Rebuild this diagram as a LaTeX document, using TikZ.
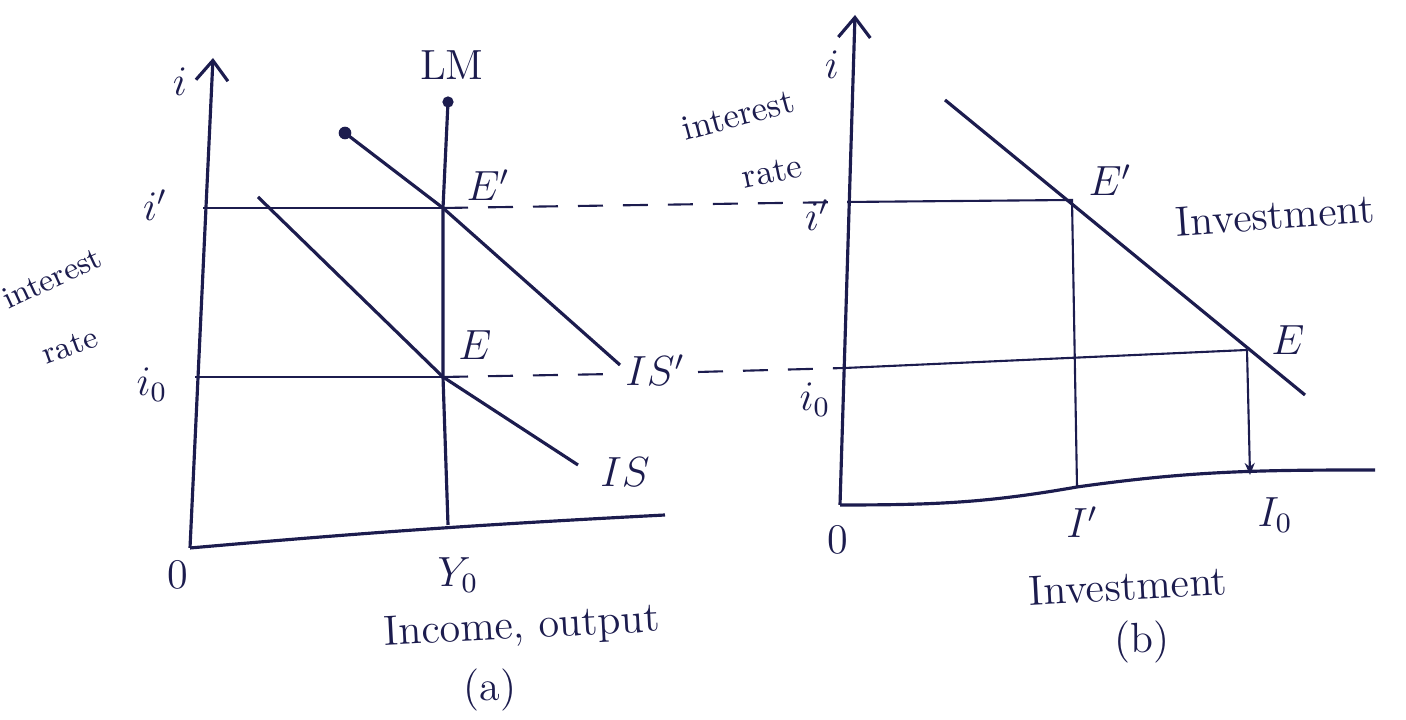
\documentclass[tikz,border=0pt]{standalone}
\usepackage{amsmath}
\usepackage{xcolor}
\usepackage{tikz}
\usetikzlibrary{arrows.meta}
\definecolor{ink}{HTML}{1C1C4E}
\tikzset{
  curve/.style={draw=ink, line width=0.9pt},
  guide/.style={draw=ink, line width=0.6pt},
  proj/.style={draw=ink, line width=0.6pt, dash pattern=on 2.5mm off 2mm},
  axisline/.style={draw=ink, line width=0.9pt},
  lbl/.style={text=ink, font=\large, inner sep=1pt},
  tip/.style={-{Straight Barb[length=2mm,width=3.2mm]}}
}

\begin{document}
\begin{tikzpicture}[x=1cm, y=1cm]
  \useasboundingbox (0,0) rectangle (14.06,7.2);
  % panel (a)
  \coordinate (oa) at (1.90,1.72);
  \coordinate (ya) at (2.13,6.62);
  \coordinate (xa) at (6.65,2.05);
  \coordinate (lmtop) at (4.48,6.18);
  \coordinate (lmbot) at (4.48,1.95);
  \coordinate (Ea1) at (4.43,5.12);
  \coordinate (Ea0) at (4.43,3.43);
  \coordinate (isa1) at (3.45,5.87);
  \coordinate (isb1) at (6.20,3.55);
  \coordinate (isa0) at (2.58,5.23);
  \coordinate (isb0) at (5.78,2.55);
  \coordinate (ia1) at (2.03,5.12);
  \coordinate (ia0) at (1.95,3.43);
  % panel (b)
  \coordinate (ob) at (8.40,2.15);
  \coordinate (yb) at (8.55,7.05);
  \coordinate (xb) at (13.75,2.50);
  \coordinate (xmid) at (10.77,2.33);
  \coordinate (xend0) at (12.50,2.45);
  \coordinate (invtop) at (9.45,6.20);
  \coordinate (invbot) at (13.05,3.25);
  \coordinate (Eb1) at (10.72,5.20);
  \coordinate (Eb0) at (12.47,3.70);
  \coordinate (ib1) at (8.47,5.18);
  \coordinate (ib0) at (8.45,3.52);

  \draw[axisline, tip] (oa) -- (ya);
  \draw[axisline] (oa) to[out=5,in=183] (xa);
  \draw[curve] (lmtop) -- (Ea1) -- (Ea0) -- (lmbot);
  \fill[ink] (lmtop) circle (1.6pt);
  \draw[curve] (isa1) -- (Ea1) -- (isb1);
  \fill[ink] (isa1) circle (1.8pt);
  \draw[curve] (isa0) -- (Ea0) -- (isb0);
  \draw[guide] (ia1) -- (Ea1);
  \draw[guide] (ia0) -- (Ea0);

  \draw[axisline, tip] (ob) -- (yb);
  \draw[axisline] (ob) to[out=0,in=190] (xmid) to[out=8,in=180] (xb);
  \draw[curve] (invtop) -- (invbot);
  \draw[guide] (ib1) -- (Eb1) -- (xmid);
  \draw[guide] (ib0) -- (Eb0);
  \draw[guide, -{Stealth[length=1.2mm,width=1mm]}] (Eb0) -- (xend0);

  \draw[proj] (Ea1) -- (ib1);
  \draw[proj] (Ea0) -- (6.15,3.46);
  \draw[proj] (6.98,3.48) -- (ib0);

  \node[lbl] (ia) at (1.80,6.38) {$i$};
  \node[lbl] (lm) at (4.52,6.55) {LM};
  \node[lbl] (ipa) at (1.55,5.15) {$i'$};
  \node[lbl] (i0a) at (1.52,3.35) {$i_0$};
  \node[lbl, rotate=25, font=\small] (rta1) at (0.52,4.42) {interest};
  \node[lbl, rotate=20, font=\small] (rta2) at (0.70,3.74) {rate};
  \node[lbl] (lEa1) at (4.88,5.35) {$E'$};
  \node[lbl] (lEa0) at (4.75,3.75) {$E$};
  \node[lbl] (lis1) at (6.55,3.50) {$IS'$};
  \node[lbl] (lis0) at (6.25,2.48) {$IS$};
  \node[lbl] (oal) at (1.78,1.45) {0};
  \node[lbl] (y0) at (4.58,1.45) {$Y_0$};
  \node[lbl, rotate=3] (inc) at (5.22,0.92) {Income, output};
  \node[lbl] (pa) at (4.90,0.30) {(a)};

  \node[lbl] (ib) at (8.32,6.55) {$i$};
  \node[lbl, rotate=15, font=\normalsize] (rtb1) at (7.38,6.05) {interest};
  \node[lbl, rotate=12, font=\normalsize] (rtb2) at (7.72,5.48) {rate};
  \node[lbl] (ipb) at (8.17,5.05) {$i'$};
  \node[lbl] (i0b) at (8.15,3.20) {$i_0$};
  \node[lbl] (lEb1) at (11.10,5.40) {$E'$};
  \node[lbl, rotate=4] (invl) at (12.75,5.05) {Investment};
  \node[lbl] (lEb0) at (12.88,3.80) {$E$};
  \node[lbl] (obl) at (8.38,1.80) {0};
  \node[lbl] (ipl) at (10.82,1.98) {$I'$};
  \node[lbl] (i0l) at (12.75,2.05) {$I_0$};
  \node[lbl, rotate=3] (invx) at (11.28,1.34) {Investment};
  \node[lbl] (pb) at (11.42,0.78) {(b)};
\end{tikzpicture}
\end{document}
